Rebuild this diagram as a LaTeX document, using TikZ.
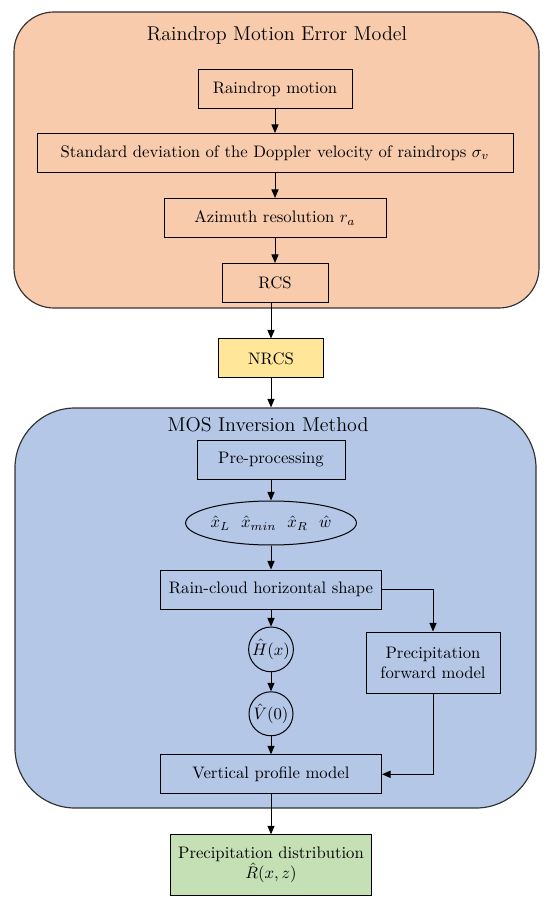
\documentclass[tikz,border=0pt]{standalone}
\usepackage{amsmath,amssymb}
\usepackage{tikz}
\usetikzlibrary{arrows.meta,positioning,shapes.geometric}
\definecolor{PeachFill}{HTML}{F8CBAD}
\definecolor{SkyFill}{HTML}{B4C7E7}
\definecolor{SandFill}{HTML}{FFE699}
\definecolor{MossFill}{HTML}{C5E0B4}
\tikzset{
  panel/.style={
    draw=black!80,
    line width=0.7pt,
    inner sep=0pt
  },
  box/.style={
    draw=black,
    line width=0.6pt,
    align=center,
    minimum height=23.4pt,
    inner sep=2pt
  },
  roundbox/.style={
    draw=black,
    line width=0.6pt,
    circle,
    minimum size=26.4pt,
    inner sep=0.5pt
  },
  ovalbox/.style={
    draw=black,
    line width=0.6pt,
    ellipse,
    minimum width=91.2pt,
    minimum height=26.4pt,
    inner sep=0pt
  },
  line/.style={-{Triangle[length=1.8mm,width=1.5mm]}, line width=0.6pt, draw=black},
  paneltitle/.style={font=\large}
}
\begin{document}
\begin{tikzpicture}[x=0.6pt,y=-0.6pt]
\useasboundingbox (0,0) rectangle (550,897);

% panels
\node[panel, fill=PeachFill, rounded corners=24pt, minimum width=315pt, minimum height=177.6pt] (errpanel) at (276.5,160) {};
\node[panel, fill=SkyFill, rounded corners=36pt, minimum width=312.6pt, minimum height=240pt] (mospanel) at (275.5,608) {};
\node[paneltitle] (errtitle) at (277,36) {Raindrop Motion Error Model};
\node[paneltitle] (mostitle) at (268,425) {MOS Inversion Method};

% raindrop motion error model
\node[box, minimum width=92.4pt] (motion) at (275,89) {Raindrop motion};
\node[box, minimum width=285.6pt, below=14.4pt of motion] (sigma) {Standard deviation of the Doppler velocity of raindrops $\sigma_v$};
\node[box, minimum width=133.2pt, below=15pt of sigma] (azim) {Azimuth resolution $r_a$};
\node[box, minimum width=63.6pt, below=15pt of azim] (rcs) {RCS};

\node[box, fill=SandFill, minimum width=63pt] (nrcs) at (271,358.5) {NRCS};

% MOS inversion method
\node[box, minimum width=88.8pt, below=36.6pt of nrcs] (prep) {Pre-processing};
\node[ovalbox, below=12.6pt of prep] (param) {$\hat{x}_L\ \ \hat{x}_{min}\ \ \hat{x}_R\ \ \hat{w}$};
\node[box, minimum width=132.6pt, below=14.4pt of param] (shape) {Rain-cloud horizontal shape};
\node[roundbox, below=10.2pt of shape] (hx) {$\hat{H}(x)$};
\node[roundbox, below=11.4pt of hx] (vz) {$\hat{V}(0)$};
\node[box, minimum width=132.6pt, below=10.8pt of vz] (profile) {Vertical profile model};
\node[box, minimum width=80.4pt, minimum height=36.6pt] (forward) at (433,662.5) {Precipitation\\forward model};

\node[box, fill=MossFill, minimum width=120.6pt, minimum height=36.6pt, below=24pt of profile] (result) {Precipitation distribution\\$\hat{R}(x,z)$};

\draw[line] (motion) -- (sigma);
\draw[line] (sigma) -- (azim);
\draw[line] (azim) -- (rcs);
\draw[line] (rcs.south -| nrcs) -- (nrcs);
\draw[line] (nrcs) -- (nrcs |- mospanel.north);
\draw[line] (prep) -- (param);
\draw[line] (param) -- (shape);
\draw[line] (shape) -- (hx);
\draw[line] (hx) -- (vz);
\draw[line] (vz) -- (profile);
\draw[line] (shape.east) -| (forward.north);
\draw[line] (forward.south) |- (profile.east);
\draw[line] (profile) -- (result);
\end{tikzpicture}
\end{document}
